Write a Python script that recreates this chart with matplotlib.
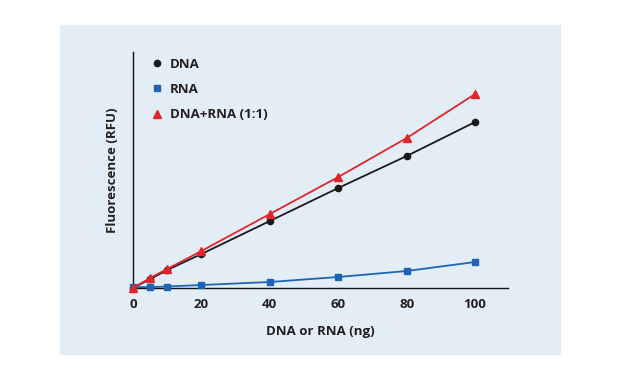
import matplotlib.pyplot as plt
from matplotlib.patches import Rectangle

x = [0, 5, 10, 20, 40, 60, 80, 100]
dna = [0, 9, 18, 34, 67, 100, 132, 166]
rna = [1, 0.8, 1.5, 3, 6, 11, 17, 26]
mix = [0, 10, 19, 37, 74, 111, 150, 194]

plt.rcParams['font.family'] = ['Open Sans', 'DejaVu Sans']
plt.rcParams['font.weight'] = 'bold'
txt = '#231f20'

fig = plt.figure(figsize=(6.21, 3.81), dpi=100)
fig.patches.append(Rectangle((60/621, 1-354/381), 500/621, 329/381,
                             transform=fig.transFigure, color='#e3edf5', zorder=-10))

ax = fig.add_axes([133/621, 1-288/381, 375/621, 236/381])
ax.set_facecolor('none')

ax.plot(x, dna, color='#1a1a1a', lw=1.3, marker='o', ms=4.5, label='DNA', clip_on=False, zorder=3)
ax.plot(x, rna, color='#1f64b4', lw=1.3, marker='s', ms=5, label='RNA', clip_on=False, zorder=3)
ax.plot(x, mix, color='#e1252b', lw=1.3, marker='^', ms=6, label='DNA+RNA (1:1)', clip_on=False, zorder=4)

ax.set_xlim(0, 109.6)
ax.set_ylim(0, 236)
ax.set_xticks([0, 20, 40, 60, 80, 100])
ax.set_yticks([])
ax.tick_params(axis='x', length=0, pad=7, labelsize=9.5)
for lab in ax.get_xticklabels():
    lab.set_fontweight('bold')
    lab.set_color(txt)
for s in ['top', 'right']:
    ax.spines[s].set_visible(False)
for s in ['left', 'bottom']:
    ax.spines[s].set_color('#111111')
    ax.spines[s].set_linewidth(1.0)

ax.set_xlabel('DNA or RNA (ng)', fontsize=9.5, fontweight='bold', color=txt, labelpad=10)
ax.set_ylabel('Fluorescence (RFU)', fontsize=9.5, fontweight='bold', color=txt, labelpad=10)

leg = ax.legend(loc='upper left', bbox_to_anchor=(0.018, 1.025), frameon=False,
                prop={'size': 9.5, 'weight': 'bold'},
                handlelength=0.8, handletextpad=0.6, labelspacing=0.92)
for h in leg.get_lines():
    h.set_linestyle('none')
for t in leg.get_texts():
    t.set_color(txt)

fig.savefig('out.png', dpi=100)
